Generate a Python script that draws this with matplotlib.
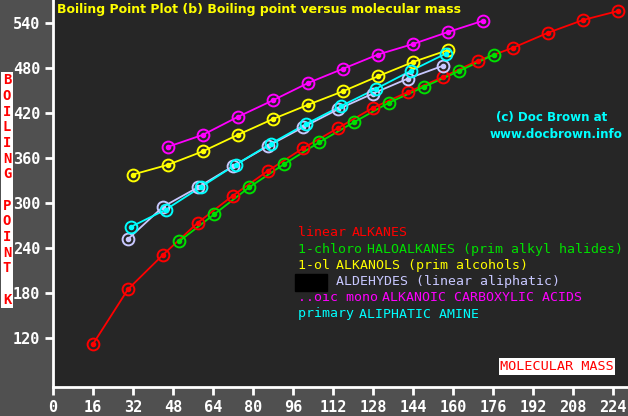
import matplotlib
matplotlib.use("Agg")
import matplotlib.pyplot as plt

# ---- data ----
alk_x = [16, 30, 44, 58, 72, 86, 100, 114, 128, 142, 156, 170, 184, 198, 212, 226]
alk_y = [112, 185, 231, 274, 310, 343, 373, 400, 427, 448, 468, 490, 507, 527, 544, 556]

cl_x = [50.5, 64.5, 78.5, 92.5, 106.5, 120.5, 134.5, 148.5, 162.5, 176.5]
cl_y = [249, 285, 321, 352, 381, 408, 434, 455, 476, 498]

ol_x = [32, 46, 60, 74, 88, 102, 116, 130, 144, 158]
ol_y = [338, 351, 369, 391, 412, 431, 449, 469, 488, 504]

ald_x = [30, 44, 58, 72, 86, 100, 114, 128, 142, 156]
ald_y = [252, 295, 321, 349, 376, 401, 425, 446, 466, 483]

acid_x = [46, 60, 74, 88, 102, 116, 130, 144, 158, 172]
acid_y = [375, 391, 415, 437, 460, 479, 498, 512, 528, 543]

am_x = [31, 45, 59, 73, 87, 101, 115, 129, 143, 157]
am_y = [268, 291, 321, 351, 379, 405, 429, 452, 476, 499]

x_ticks = list(range(0, 225, 16))
y_ticks = [120, 180, 240, 300, 360, 420, 480, 540]

series = [
    (alk_x, alk_y, "#ff0000"),
    (cl_x, cl_y, "#00e000"),
    (ol_x, ol_y, "#ffff00"),
    (ald_x, ald_y, "#c8c8ff"),
    (acid_x, acid_y, "#ff00ff"),
    (am_x, am_y, "#00ffff"),
]

legend_lines = [
    [("linear ", "#ff0000"), ("ALKANES", "#ff0000")],
    [("1-chloro ", "#00e000"), ("HALOALKANES (prim alkyl halides)", "#00e000")],
    [("1-ol ", "#ffff00"), ("ALKANOLS (prim alcohols)", "#ffff00")],
    [("     ", "#c8c8ff"), ("ALDEHYDES (linear aliphatic)", "#c8c8ff")],
    [("..oic mono ", "#ff00ff"), ("ALKANOIC CARBOXYLIC ACIDS", "#ff00ff")],
    [("primary ", "#00ffff"), ("ALIPHATIC AMINE", "#00ffff")],
]

W, H = 628, 416
fig = plt.figure(figsize=(W / 100, H / 100), dpi=100, facecolor="#505050")
ax = fig.add_axes([53 / W, (H - 387) / H, (W - 53) / W, 387 / H])
ax.set_facecolor("#262626")
ax.set_xlim(0, 230)
ax.set_ylim(54.7, 570.7)

for xs, ys, c in series:
    ax.plot(xs, ys, color=c, lw=1.3, zorder=3)
    ax.plot(xs, ys, ls="none", marker="o", ms=8.5, mfc="none", mec=c, mew=1.4, zorder=4)
    ax.plot(xs, ys, ls="none", marker="o", ms=3, mfc=c, mec=c, zorder=4)

for s in ["top", "right"]:
    ax.spines[s].set_visible(False)
for s in ["left", "bottom"]:
    ax.spines[s].set_color("white")
    ax.spines[s].set_linewidth(2)

mono = "DejaVu Sans Mono"
ax.set_xticks(x_ticks)
ax.set_xticklabels([str(v) for v in x_ticks])
ax.set_yticks(y_ticks)
ax.set_yticklabels([str(v) for v in y_ticks])
ax.tick_params(axis="both", colors="white", width=2, length=6, direction="out",
               labelsize=11, pad=3)
for lab in ax.get_xticklabels() + ax.get_yticklabels():
    lab.set_fontfamily(mono)
    lab.set_fontweight("bold")
    lab.set_color("white")

# title
fig.text(57 / W, 1 - 10 / H, "Boiling Point Plot (b) Boiling point versus molecular mass",
         color="#ffff00", fontsize=9.0, fontweight="bold", family="DejaVu Sans",
         ha="left", va="center")

# copyright
fig.text(552 / W, 1 - 118 / H, "(c) Doc Brown at", color="#00ffff", fontsize=8.6,
         fontweight="bold", ha="center", va="center")
fig.text(556 / W, 1 - 134 / H, "www.docbrown.info", color="#00ffff", fontsize=8.6,
         fontweight="bold", ha="center", va="center")

# legend text
char_w = 7.68
y0 = 233
for i, parts in enumerate(legend_lines):
    xpix = 298
    for txt, col in parts:
        fig.text(xpix / W, 1 - (y0 + i * 16.2) / H, txt, color=col, fontsize=9.55,
                 family=mono, ha="left", va="center")
        xpix += len(txt) * char_w
# black box before aldehydes
fig.patches.append(plt.Rectangle((295 / W, 1 - 291 / H), 32 / W, 17 / H,
                                 transform=fig.transFigure, color="black", zorder=5))

# x-axis label box
fig.text(557 / W, 1 - 366.5 / H, "MOLECULAR MASS", color="#ff0000", fontsize=9.7,
         family=mono, ha="center", va="center",
         bbox=dict(boxstyle="square,pad=0.12", fc="white", ec="none"))

# y-axis label (vertical stacked)
ylab = "\n".join(list("BOILING POINT K"))
fig.text(7 / W, 1 - 190 / H, ylab, color="#ff0000", fontsize=10, family=mono,
         fontweight="bold", ha="center", va="center", linespacing=1.15,
         bbox=dict(boxstyle="square,pad=0.1", fc="white", ec="none"))

fig.savefig("out.png", dpi=100, facecolor=fig.get_facecolor())
